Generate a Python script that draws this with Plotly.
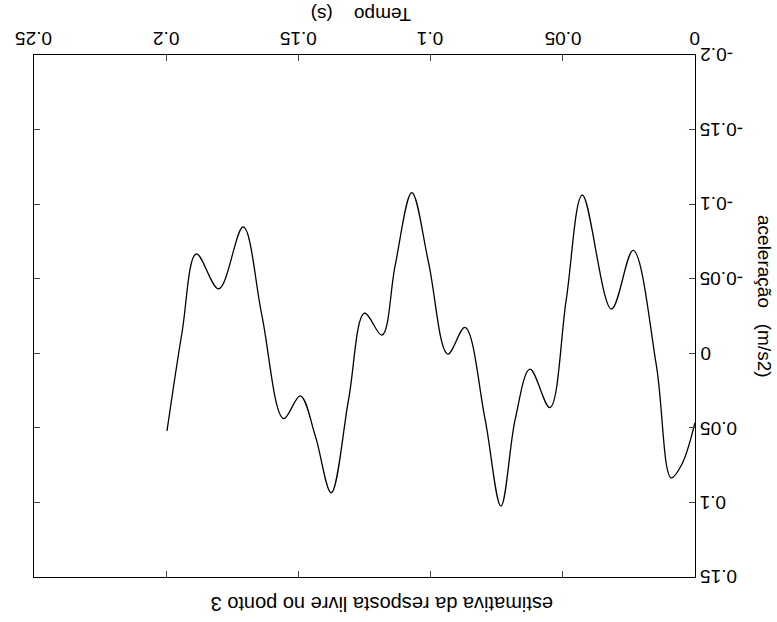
import plotly.graph_objects as go

# tempo (s) e aceleração (m/s2)
tempo = [0.000, 0.005, 0.009, 0.0146, 0.0234, 0.0316, 0.0426, 0.0487, 0.0549,
         0.0624, 0.068, 0.0734, 0.0794, 0.0870, 0.0935, 0.1008, 0.1071, 0.1134,
         0.1184, 0.1250, 0.1310, 0.1376, 0.1436, 0.1493, 0.1556, 0.1638, 0.1709,
         0.1801, 0.1886, 0.1940, 0.1997]
aceleracao = [0.0465, 0.0746, 0.0835, 0.0083, -0.069, -0.0297, -0.106, -0.036, 0.0364,
              0.0106, 0.0442, 0.1025, 0.0442, -0.0174, 0.0005, -0.0611, -0.1077, -0.0589,
              -0.0122, -0.027, 0.0308, 0.0935, 0.0554, 0.0285, 0.0438, -0.0253, -0.0847,
              -0.0432, -0.0667, -0.0141, 0.052]

x_ticks = [0, 0.05, 0.1, 0.15, 0.2, 0.25]
x_labels = ["0", "0.05", "0.1", "0.15", "0.2", "0.25"]
y_ticks = [-0.2, -0.15, -0.1, -0.05, 0, 0.05, 0.1, 0.15]
y_labels = ["-0.2", "-0.15", "-0.1", "-0.05", "0", "0.05", "0.1", "0.15"]

fnt = dict(family="Liberation Sans, Arial", size=19, color="black")

fig = go.Figure()
fig.add_trace(go.Scatter(x=tempo, y=aceleracao, mode="lines",
                         line=dict(color="black", width=1.3, shape="spline"),
                         showlegend=False))

# gráfico digitalizado de cabeça para baixo: rótulos girados 180 graus
notas = [dict(text=lab, x=1, y=v, xref="paper", yref="y", xanchor="left",
              yanchor="middle", xshift=3, showarrow=False, textangle=180, font=fnt)
         for v, lab in zip(y_ticks, y_labels)]
notas += [dict(text=lab, x=v, y=1, xref="x", yref="paper", xanchor="center",
               yanchor="middle", yshift=16, showarrow=False, textangle=180, font=fnt)
          for v, lab in zip(x_ticks, x_labels)]

notas += [
    dict(text="Tempo    (s)", x=(361 - 34) / 661, y=1.0, xref="paper", yref="paper",
         xanchor="center", yanchor="middle", yshift=40, showarrow=False,
         textangle=180, font=fnt),
    dict(text="aceleração   (m/s2)", x=1.0, y=(577 - 296) / 522, xref="paper",
         yref="paper", xanchor="center", yanchor="middle", xshift=70,
         showarrow=False, textangle=90, font=fnt),
    dict(text="estimativa da resposta livre no ponto 3", x=(382 - 34) / 661, y=0,
         xref="paper", yref="paper", xanchor="center", yanchor="middle",
         yshift=-27, showarrow=False, textangle=180,
         font=dict(family="Liberation Sans, Arial", size=20, color="black")),
]

fig.update_layout(
    width=777, height=622,
    margin=dict(l=34, r=82, t=55, b=45),
    paper_bgcolor="white", plot_bgcolor="white",
    font=fnt,
    xaxis=dict(range=[0.25, 0], side="top", tickvals=x_ticks,
               showticklabels=False, ticks="inside", ticklen=6,
               showgrid=False, automargin=False,
               zeroline=False, showline=True, linecolor="black", mirror="ticks"),
    yaxis=dict(range=[0.15, -0.2], side="right", tickvals=y_ticks,
               showticklabels=False, ticks="inside", ticklen=6, showgrid=False,
               automargin=False,
               zeroline=False, showline=True, linecolor="black", mirror="ticks"),
    annotations=notas,
)

# tira a margem padrão de 8 px da página
fig.write_html("out.html", config={"displayModeBar": False},
               post_script="document.body.style.margin='0';")
